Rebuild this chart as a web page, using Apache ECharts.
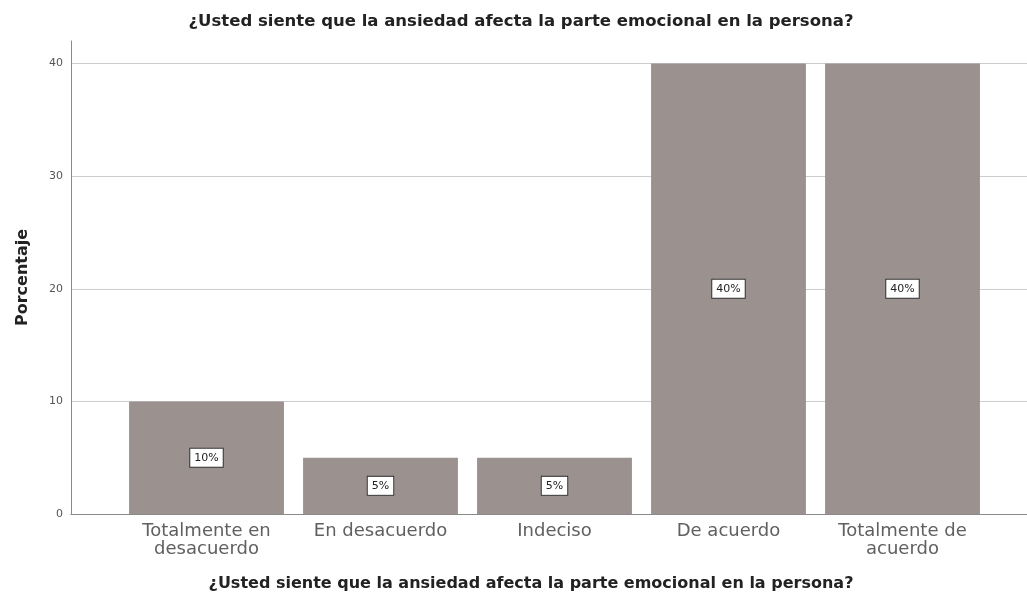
<!DOCTYPE html>
<html>
<head>
<meta charset="utf-8">
<title>Ansiedad y parte emocional</title>
<script src="https://cdn.jsdelivr.net/npm/echarts@6/dist/echarts.min.js"></script>
<style>
  html, body { margin: 0; padding: 0; background: #fff; }
  #chart { width: 1027px; height: 605px; }
</style>
</head>
<body>
<div id="chart"></div>
<script>
// Question text, response categories and percentages
const question = '¿Usted siente que la ansiedad afecta la parte emocional en la persona?';
const categories = ['Totalmente en\ndesacuerdo', 'En desacuerdo', 'Indeciso', 'De acuerdo', 'Totalmente de\nacuerdo'];
const percentages = [10, 5, 5, 40, 40];
const yTicks = [0, 10, 20, 30, 40];

const font = 'DejaVu Sans, Verdana, sans-serif';
const yMax = 42;

const chart = echarts.init(document.getElementById('chart'), null, { renderer: 'canvas' });

chart.setOption({
  backgroundColor: '#ffffff',
  animation: false,
  title: [
    {
      text: question,
      left: 516, top: 8, textAlign: 'center',
      textStyle: { fontFamily: font, fontSize: 16.5, fontWeight: 'bold', color: '#222' }
    },
    {
      text: question,
      left: 526, top: 571, textAlign: 'center',
      textStyle: { fontFamily: font, fontSize: 16, fontWeight: 'bold', color: '#222' }
    }
  ],
  grid: [
    // frame: axis lines and gridlines across the full plot width
    { left: 71, right: 0, top: 41, bottom: 91, outerBoundsMode: 'none' },
    // bars
    { left: 119.5, right: 37.5, top: 41, bottom: 91, outerBoundsMode: 'none' }
  ],
  xAxis: [
    {
      type: 'value', gridIndex: 0, min: 0, max: 1,
      axisLine: { show: true, lineStyle: { color: '#8a8a8a', width: 1 } },
      axisTick: { show: false }, axisLabel: { show: false }, splitLine: { show: false }
    },
    {
      type: 'category', gridIndex: 1, data: categories,
      axisLine: { show: false }, axisTick: { show: false },
      axisLabel: {
        interval: 0, margin: 8,
        fontFamily: font, fontSize: 18, lineHeight: 18, color: '#606060'
      }
    }
  ],
  yAxis: [
    {
      type: 'value', gridIndex: 0, min: 0, max: yMax, interval: 10,
      name: 'Porcentaje', nameLocation: 'middle', nameGap: 40, nameRotate: 90,
      nameTextStyle: { fontFamily: font, fontSize: 16, fontWeight: 'bold', color: '#222' },
      axisLine: { show: true, lineStyle: { color: '#8a8a8a', width: 1 } },
      axisTick: { show: false },
      axisLabel: {
        showMaxLabel: false, margin: 8,
        fontFamily: font, fontSize: 11, color: '#555',
        formatter: v => (yTicks.indexOf(v) >= 0 ? String(v) : '')
      },
      splitLine: {
        show: true, showMinLine: false, showMaxLine: false,
        lineStyle: { color: ['#cccccc', '#cccccc', '#cccccc', '#cccccc', '#cccccc', 'rgba(0,0,0,0)'], width: 1 }
      }
    },
    {
      type: 'value', gridIndex: 1, min: 0, max: yMax, show: false
    }
  ],
  series: [
    {
      type: 'bar',
      xAxisIndex: 1, yAxisIndex: 1,
      data: percentages,
      barCategoryGap: '11%',
      itemStyle: { color: '#9b9290' },
      label: {
        show: true, position: 'inside',
        formatter: p => p.value + '%',
        fontFamily: font, fontSize: 11, color: '#222',
        backgroundColor: '#ffffff', borderColor: '#333', borderWidth: 1,
        padding: [4, 4, 3, 4]
      }
    }
  ]
});
</script>
</body>
</html>
